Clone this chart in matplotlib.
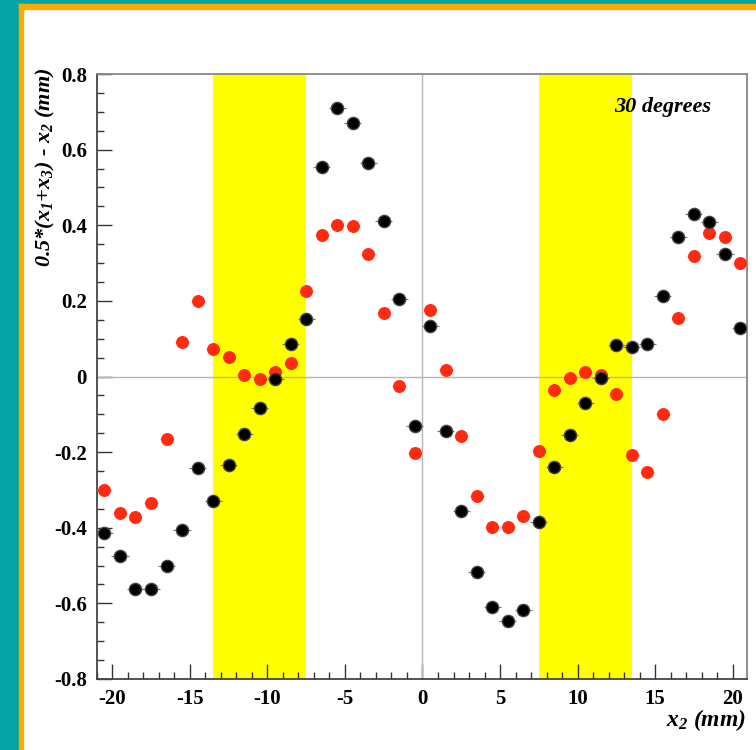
import matplotlib.pyplot as plt
import matplotlib.patches as patches
from matplotlib.ticker import MultipleLocator

# Times-like bold fonts, like the ROOT plot
plt.rcParams['font.family'] = 'Liberation Serif'
# subscripts take the font of the surrounding text (bold italic)
plt.rcParams['mathtext.default'] = 'regular'

# strip positions (mm)
x2 = [-20.5, -19.5, -18.5, -17.5, -16.5, -15.5, -14.5, -13.5, -12.5, -11.5,
      -10.5, -9.5, -8.5, -7.5, -6.5, -5.5, -4.5, -3.5, -2.5, -1.5, -0.5,
      0.5, 1.5, 2.5, 3.5, 4.5, 5.5, 6.5, 7.5, 8.5, 9.5, 10.5, 11.5, 12.5,
      13.5, 14.5, 15.5, 16.5, 17.5, 18.5, 19.5, 20.5]

# black points
resid_black = [-0.414, -0.474, -0.562, -0.562, -0.501, -0.405, -0.243, -0.328,
               -0.233, -0.152, -0.082, -0.006, 0.087, 0.151, 0.555, 0.711,
               0.670, 0.564, 0.412, 0.205, -0.132, 0.134, -0.145, -0.355,
               -0.516, -0.609, -0.646, -0.617, -0.386, -0.240, -0.156, -0.071,
               -0.003, 0.082, 0.077, 0.085, 0.212, 0.370, 0.429, 0.408, 0.325, 0.129]

# red points
resid_red = [-0.299, -0.360, -0.371, -0.335, -0.164, 0.092, 0.199, 0.073, 0.052,
             0.004, -0.007, 0.012, 0.036, 0.226, 0.373, 0.401, 0.397, 0.325,
             0.167, -0.024, -0.202, 0.177, 0.018, -0.157, -0.317, -0.398,
             -0.398, -0.369, -0.196, -0.035, -0.005, 0.011, 0.004, -0.045,
             -0.208, -0.253, -0.098, 0.154, 0.320, 0.379, 0.370, 0.300]

# yellow bands (mm)
bands = [(-13.5, -7.5), (7.5, 13.5)]

xticks = [-20, -15, -10, -5, 0, 5, 10, 15, 20]
xtick_labels = ['-20', '-15', '-10', '-5', '0', '5', '10', '15', '20']
yticks = [-0.8, -0.6, -0.4, -0.2, 0, 0.2, 0.4, 0.6, 0.8]
ytick_labels = ['-0.8', '-0.6', '-0.4', '-0.2', '0', '0.2', '0.4', '0.6', '0.8']

W, H = 756, 750
fig = plt.figure(figsize=(W / 100, H / 100), dpi=100)
fig.patch.set_facecolor('white')

# slide background: teal strip left/top, orange frame
teal = '#05a3a3'
orange = '#ffaa00'
fig.patches.append(patches.Rectangle((0, 0), 18.5 / W, 1, transform=fig.transFigure, color=teal, zorder=0))
fig.patches.append(patches.Rectangle((0, 1 - 4 / H), 1, 4 / H, transform=fig.transFigure, color=teal, zorder=0))
fig.patches.append(patches.Rectangle((18.5 / W, 0), 4.3 / W, 1 - 4 / H, transform=fig.transFigure, color=orange, zorder=0))
fig.patches.append(patches.Rectangle((18.5 / W, 1 - 9 / H), 1, 5 / H, transform=fig.transFigure, color=orange, zorder=0))

ax = fig.add_axes([96.7 / W, 71 / H, 650 / W, 605 / H])
ax.set_facecolor('none')

for lo, hi in bands:
    ax.axvspan(lo, hi, color='#ffff00', lw=0, zorder=1)

ax.axhline(0, color='#b5b5b5', lw=1, zorder=2)
ax.axvline(0, color='#b5b5b5', lw=1, zorder=2)

ax.errorbar(x2, resid_red, xerr=0.5, fmt='o', color='#ff2a10', ms=8.3,
            ecolor='#ffc8c0', elinewidth=0.8, capsize=0, zorder=3)
ax.errorbar(x2, resid_black, xerr=0.55, yerr=0.012, fmt='o', color='black', ms=8.8,
            mec='#444444', ecolor='#777777', elinewidth=0.8, capsize=0, zorder=4)

ax.set_xlim(-21, 20.9)
ax.set_ylim(-0.8, 0.8)

ax.set_xticks(xticks)
ax.set_xticklabels(xtick_labels)
ax.set_yticks(yticks)
ax.set_yticklabels(ytick_labels)
ax.xaxis.set_minor_locator(MultipleLocator(1))
ax.yaxis.set_minor_locator(MultipleLocator(0.05))
ax.tick_params(which='major', direction='in', length=11, width=1, pad=7,
               top=False, right=False, labelsize=15, colors='#333333')
ax.tick_params(which='minor', direction='in', length=5, width=1,
               top=False, right=False, colors='#333333')
for lab in ax.get_xticklabels() + ax.get_yticklabels():
    lab.set_fontweight('bold')
    lab.set_color('black')

for s in ['left', 'bottom']:
    ax.spines[s].set_color('#444444')
    ax.spines[s].set_linewidth(1.3)
for s in ['top', 'right']:
    ax.spines[s].set_color('#888888')
    ax.spines[s].set_linewidth(1.3)

ax.text(0.871, 0.946, '30 degrees', transform=ax.transAxes, fontsize=16,
        fontweight='bold', fontstyle='italic', ha='center', va='center', zorder=5)

fig.text(45 / W, 1 - 68 / H, r'0.5*(x$_1$+x$_3$) - x$_2$ (mm)', rotation=90,
         fontsize=16, fontweight='bold', fontstyle='italic', ha='center', va='top')
fig.text(746 / W, 1 - 720 / H, r'x$_2$ (mm)', fontsize=17, fontweight='bold',
         fontstyle='italic', ha='right', va='center')

plt.savefig('out.png', dpi=100)
